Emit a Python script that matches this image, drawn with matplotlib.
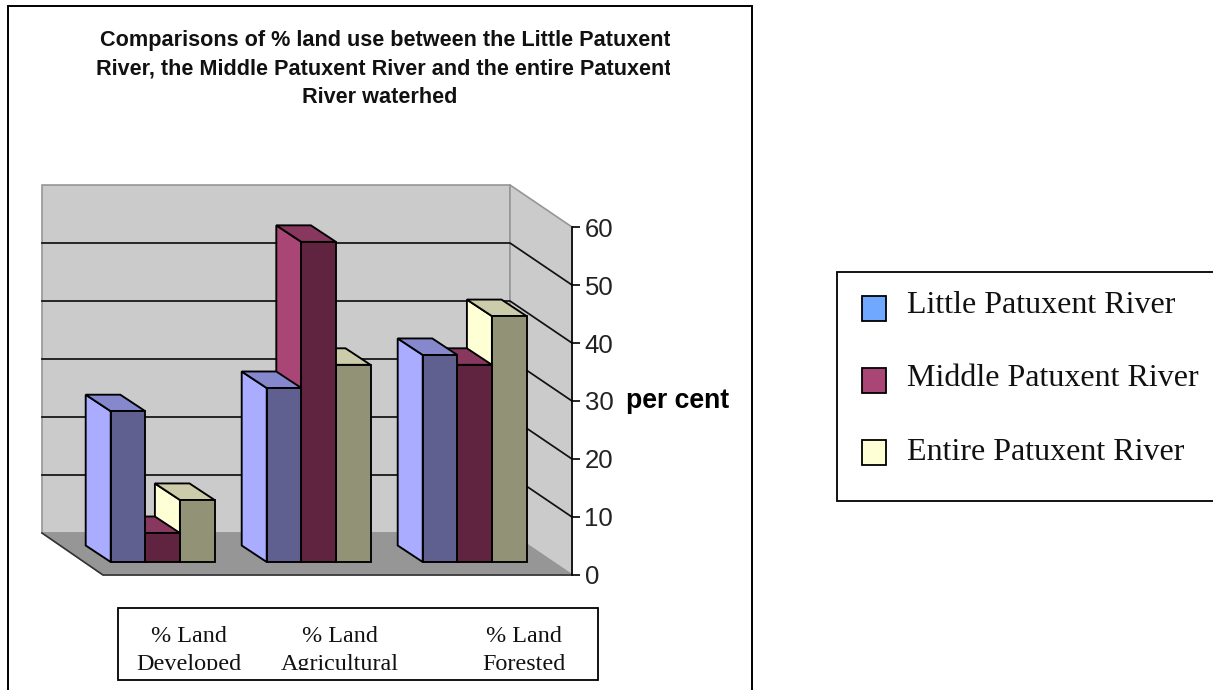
"""
Excel-style 3D clustered columns of land use along the Patuxent, drawn flat:
the y axis is a real axes in per cent, the depth is a fixed oblique offset.
"""
import matplotlib

matplotlib.use("Agg")
import matplotlib.pyplot as plt
from matplotlib.patches import Polygon, Rectangle

WIDTH, HEIGHT = 1213, 690

TITLE_LINES = [
    "Comparisons of % land use between the Little Patuxent",
    "River, the Middle Patuxent River and the entire Patuxent",
    "River waterhed",
]
CATEGORIES = ["% Land\nDeveloped", "% Land\nAgricultural", "% Land\nForested"]
SERIES = ["Little Patuxent River", "Middle Patuxent River", "Entire Patuxent River"]
LITTLE = [26, 30, 35.7]
MIDDLE = [5, 55.2, 34]
ENTIRE = [10.7, 34, 42.4]
Y_TICKS = [0, 10, 20, 30, 40, 50, 60]

LEGEND_COLORS = ["#70A8FF", "#AA4676", "#FFFFD6"]
SIDE_COLORS = ["#A9ACFF", "#AA4676", "#FFFFD6"]
TOP_COLORS = ["#8588CC", "#88385F", "#CCCCAA"]
FRONT_COLORS = ["#606090", "#602340", "#929277"]
WALL = "#CBCBCB"
FLOOR = "#969696"

PER_UNIT = 5.8  # pixels per percent on the axis
FLOOR_DX, FLOOR_DY = -62, 42 / PER_UNIT  # depth of the whole box
BAR_DX, BAR_DY = -25, 16.5 / PER_UNIT  # depth of one column
BASE = 13 / PER_UNIT  # columns stand this far in front of the axis zero
GROUP_X = [110.7, 266.7, 422.7]
BAR_W = 34.6
LEFT, RIGHT = 42, 572


def px_rect(fig, x0, y0, x1, y1, **kw):
    r = Rectangle((x0 / WIDTH, 1 - y1 / HEIGHT), (x1 - x0) / WIDTH, (y1 - y0) / HEIGHT,
                  transform=fig.transFigure, **kw)
    fig.add_artist(r)
    return r


def px_text(fig, x, y, s, **kw):
    return fig.text(x / WIDTH, 1 - y / HEIGHT, s, va="baseline", **kw)


def draw_box(ax):
    front_l, front_r = LEFT + 61, RIGHT
    back_l, back_r = LEFT, RIGHT + FLOOR_DX
    ax.add_patch(Polygon([(back_l, FLOOR_DY), (back_r, FLOOR_DY),
                          (back_r, 60 + FLOOR_DY), (back_l, 60 + FLOOR_DY)],
                         fc=WALL, ec=FLOOR, lw=1.2, clip_on=False, zorder=1))
    ax.add_patch(Polygon([(back_r, FLOOR_DY), (front_r, 0), (front_r, 60),
                          (back_r, 60 + FLOOR_DY)],
                         fc=WALL, ec=FLOOR, lw=1.2, clip_on=False, zorder=1))
    ax.add_patch(Polygon([(back_l, FLOOR_DY), (back_r, FLOOR_DY), (front_r, 0), (front_l, 0)],
                         fc=FLOOR, ec=FLOOR, lw=1.0, clip_on=False, zorder=1))
    for v in Y_TICKS[1:-1]:
        ax.plot([back_l, back_r, front_r], [v + FLOOR_DY, v + FLOOR_DY, v],
                color="#111111", lw=1.25, clip_on=False, zorder=2)
    ax.plot([back_l, front_l, front_r], [FLOOR_DY, 0, 0], color="#333333", lw=1.2,
            clip_on=False, zorder=2)


def draw_bar(ax, x, value, i):
    lo, hi = BASE, BASE + value
    x1 = x + BAR_W
    kw = dict(ec="black", lw=1.35, clip_on=False, joinstyle="miter", zorder=3)
    ax.add_patch(Polygon([(x, lo), (x, hi), (x + BAR_DX, hi + BAR_DY), (x + BAR_DX, lo + BAR_DY)],
                         fc=SIDE_COLORS[i], **kw))
    ax.add_patch(Polygon([(x, hi), (x1, hi), (x1 + BAR_DX, hi + BAR_DY), (x + BAR_DX, hi + BAR_DY)],
                         fc=TOP_COLORS[i], **kw))
    ax.add_patch(Rectangle((x, lo), BAR_W, value, fc=FRONT_COLORS[i], **kw))


def main():
    fig = plt.figure(figsize=(WIDTH / 100, HEIGHT / 100), dpi=100)

    # outer chart frame runs off the bottom of the page
    px_rect(fig, 8, 6, 752, 700, fc="none", ec="black", lw=1.4)

    ax = fig.add_axes([LEFT / WIDTH, (HEIGHT - 575) / HEIGHT,
                       (RIGHT - LEFT) / WIDTH, 348 / HEIGHT])
    ax.set_xlim(LEFT, RIGHT)
    ax.set_ylim(0, 60)
    ax.patch.set_visible(False)
    for side in ["left", "top", "bottom"]:
        ax.spines[side].set_visible(False)
    ax.spines["right"].set_linewidth(1.2)
    ax.spines["right"].set_zorder(5)
    ax.xaxis.set_visible(False)
    ax.yaxis.tick_right()
    ax.set_yticks(Y_TICKS)
    ax.tick_params(axis="y", length=6, width=1.2, pad=3, labelsize=18.5)
    for lab in ax.get_yticklabels():
        lab.set_family("Liberation Sans")
        lab.set_color("#222222")

    draw_box(ax)
    values = [LITTLE, MIDDLE, ENTIRE]
    for g, gx in enumerate(GROUP_X):
        # right to left, so each column hides the side of the one behind it
        for i in [2, 1, 0]:
            draw_bar(ax, gx + i * BAR_W, values[i][g], i)

    # title, cut off on the right as in the original object
    title_clip = px_rect(fig, 0, 0, 670, HEIGHT, fc="none", ec="none")
    for x, y, line in zip([385, 384, 380], [46, 75, 103], TITLE_LINES):
        t = px_text(fig, x, y, line, family="Liberation Sans", fontweight="bold", fontsize=15.6,
                    ha="center", color="#111111")
        t.set_clip_path(title_clip)
        t.set_clip_on(True)

    px_text(fig, 678, 408, "per cent", family="Liberation Sans", fontweight="bold", fontsize=19.2,
            ha="center", color="black")

    # category label box, text clipped by its inner edge
    px_rect(fig, 118, 608, 598, 680, fc="white", ec="black", lw=1.3)
    cat_clip = px_rect(fig, 118, 608, 598, 669.5, fc="none", ec="none")
    for cx, cat in zip([189, 340, 524], CATEGORIES):
        top, bottom = cat.split("\n")
        for y, s in zip([642, 670], [top, bottom]):
            t = px_text(fig, cx, y, s, family="Liberation Serif", fontsize=17.4,
                        ha="center", color="#111111")
            t.set_clip_path(cat_clip)
            t.set_clip_on(True)

    # legend box, right edge is off the page
    px_rect(fig, 837, 272, 1225, 501, fc="white", ec="black", lw=1.3)
    for y, base, name, color in zip([308.5, 380.5, 452.5], [312.7, 386.5, 459.5], SERIES, LEGEND_COLORS):
        px_rect(fig, 862, y - 12.5, 886, y + 12.5, fc=color, ec="black", lw=1.3)
        px_text(fig, 907, base, name, family="Liberation Serif", fontsize=23,
                ha="left", color="#111111")

    fig.savefig("out.png", dpi=100)


if __name__ == "__main__":
    main()
